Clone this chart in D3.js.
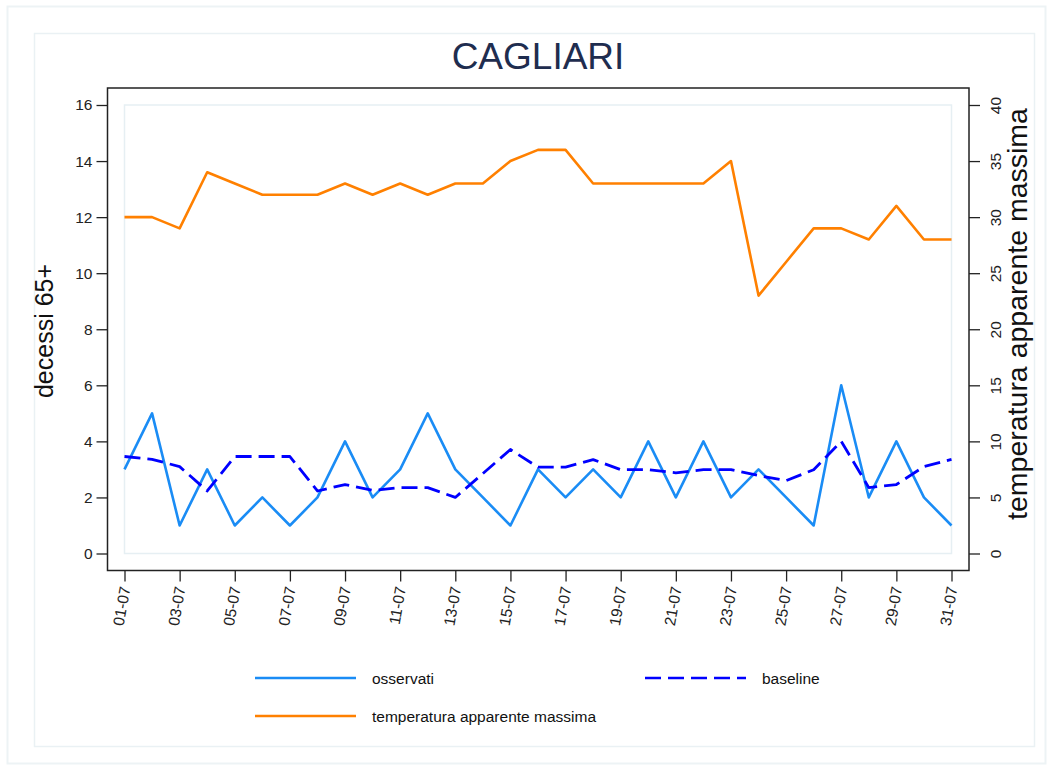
<!DOCTYPE html>
<html>
<head>
<meta charset="utf-8">
<script src="https://cdn.jsdelivr.net/npm/d3@7"></script>
<style>
  html, body { margin: 0; padding: 0; background: #ffffff; }
  svg { display: block; font-family: "Liberation Sans", Arial, sans-serif; }
</style>
</head>
<body>
<svg id="chart" width="1050" height="769"></svg>
<script>
// ---- data ----
const days = [1,2,3,4,5,6,7,8,9,10,11,12,13,14,15,16,17,18,19,20,21,22,23,24,25,26,27,28,29,30,31];
const dayLabels = days.map(d => String(d).padStart(2, "0") + "-07");
const tickDays = [1,3,5,7,9,11,13,15,17,19,21,23,25,27,29,31];
const osservati = [3,5,1,3,1,2,1,2,4,2,3,5,3,2,1,3,2,3,2,4,2,4,2,3,2,1,6,2,4,2,1];
const baseline = [3.46,3.36,3.1,2.23,3.46,3.46,3.46,2.23,2.46,2.25,2.35,2.35,2.0,2.85,3.71,3.08,3.08,3.35,2.99,2.99,2.88,2.99,2.99,2.78,2.6,2.99,4.0,2.35,2.46,3.1,3.36];
const temperatura = [30,30,29,34,33,32,32,32,33,32,33,32,33,33,35,36,36,33,33,33,33,33,35,23,26,29,29,28,31,28,28];
const leftTicks = [0,2,4,6,8,10,12,14,16];
const rightTicks = [0,5,10,15,20,25,30,35,40];
const titleText = "CAGLIARI";
const leftTitle = "decessi 65+";
const rightTitle = "temperatura apparente massima";
const legendItems = [
  {label: "osservati", color: "#1a8cf5", dash: null},
  {label: "baseline", color: "#0000ff", dash: "16,7"},
  {label: "temperatura apparente massima", color: "#ff8000", dash: null}
];

// ---- layout ----
const svg = d3.select("#chart");
const frame = {x0: 107.5, x1: 969, y0: 88, y1: 570.5};
const x = d3.scaleLinear().domain([1, 31]).range([124.5, 951.5]);
const yL = d3.scaleLinear().domain([0, 16]).range([553.5, 105]);
const yR = d3.scaleLinear().domain([0, 40]).range([553.5, 105]);

// outer borders
svg.append("rect").attr("x", 7.5).attr("y", 6.5).attr("width", 1038).attr("height", 757)
  .attr("fill", "#ffffff").attr("stroke", "#edf3f5").attr("stroke-width", 2);
svg.append("rect").attr("x", 34.5).attr("y", 33.5).attr("width", 1000).attr("height", 713)
  .attr("fill", "#ffffff").attr("stroke", "#eaf1f4").attr("stroke-width", 1.5);

// inner plot region border
svg.append("rect").attr("x", 124.5).attr("y", 105).attr("width", 827).attr("height", 448.5)
  .attr("fill", "none").attr("stroke", "#e6eff3").attr("stroke-width", 1.5);

// title
svg.append("text").attr("x", 538).attr("y", 69).attr("text-anchor", "middle")
  .attr("font-size", 37).attr("fill", "#1f2d4f").text(titleText);

// axes
const axColor = "#222222";
const gL = svg.append("g").attr("transform", `translate(${frame.x0},0)`)
  .call(d3.axisLeft(yL).tickValues(leftTicks).tickSize(11).tickPadding(4).tickSizeOuter(0));
gL.select(".domain").remove();
gL.selectAll("line").attr("stroke", axColor).attr("stroke-width", 1.3);
gL.selectAll("text").attr("font-size", 15.5).attr("fill", "#222").attr("font-family", "Liberation Sans, Arial, sans-serif");

const gR = svg.append("g").attr("transform", `translate(${frame.x1},0)`)
  .call(d3.axisRight(yR).tickValues(rightTicks).tickSize(11).tickSizeOuter(0));
gR.select(".domain").remove();
gR.selectAll("line").attr("stroke", axColor).attr("stroke-width", 1.3);
gR.selectAll("text")
  .attr("x", 0).attr("dy", null)
  .attr("font-size", 15.5).attr("fill", "#222").attr("font-family", "Liberation Sans, Arial, sans-serif")
  .attr("text-anchor", "middle").attr("dominant-baseline", "central")
  .attr("transform", "translate(26,0) rotate(-90)");

const gB = svg.append("g").attr("transform", `translate(0,${frame.y1})`)
  .call(d3.axisBottom(x).tickValues(tickDays).tickSize(11).tickSizeOuter(0)
    .tickFormat(d => dayLabels[days.indexOf(d)]));
gB.select(".domain").remove();
gB.selectAll("line").attr("stroke", axColor).attr("stroke-width", 1.3);
gB.selectAll("text")
  .attr("y", 0).attr("x", 0).attr("dy", null)
  .attr("font-size", 15.5).attr("fill", "#222").attr("font-family", "Liberation Sans, Arial, sans-serif")
  .attr("text-anchor", "end").attr("dominant-baseline", "central")
  .attr("transform", "translate(0,16) rotate(-80)");

// frame
svg.append("rect").attr("x", frame.x0).attr("y", frame.y0)
  .attr("width", frame.x1 - frame.x0).attr("height", frame.y1 - frame.y0)
  .attr("fill", "none").attr("stroke", axColor).attr("stroke-width", 1.5);

// axis titles
svg.append("text").attr("transform", `translate(53,331) rotate(-90)`)
  .attr("text-anchor", "middle").attr("font-size", 25).attr("fill", "#111").text(leftTitle);
svg.append("text").attr("transform", `translate(1027,314) rotate(-90)`)
  .attr("text-anchor", "middle").attr("font-size", 28.5).attr("fill", "#111").text(rightTitle);

// lines
const lineL = d3.line().x((d, i) => x(days[i])).y(d => yL(d));
const lineR = d3.line().x((d, i) => x(days[i])).y(d => yR(d));
const plot = svg.append("g");
plot.append("path").datum(temperatura).attr("d", lineR)
  .attr("fill", "none").attr("stroke", legendItems[2].color).attr("stroke-width", 2.6)
  .attr("stroke-linejoin", "round");
plot.append("path").datum(osservati).attr("d", lineL)
  .attr("fill", "none").attr("stroke", legendItems[0].color).attr("stroke-width", 2.6)
  .attr("stroke-linejoin", "round");
plot.append("path").datum(baseline).attr("d", lineL)
  .attr("fill", "none").attr("stroke", legendItems[1].color).attr("stroke-width", 2.8)
  .attr("stroke-dasharray", legendItems[1].dash).attr("stroke-linejoin", "round");

// legend
const legPos = [
  {lx: 255, ly: 678},
  {lx: 645, ly: 678},
  {lx: 255, ly: 716}
];
legendItems.forEach((it, i) => {
  const p = legPos[i];
  svg.append("line").attr("x1", p.lx).attr("x2", p.lx + 101).attr("y1", p.ly).attr("y2", p.ly)
    .attr("stroke", it.color).attr("stroke-width", 2.6)
    .attr("stroke-dasharray", it.dash);
  svg.append("text").attr("x", p.lx + 117).attr("y", p.ly).attr("dominant-baseline", "central")
    .attr("font-size", 15.5).attr("fill", "#111").text(it.label);
});
</script>
</body>
</html>
